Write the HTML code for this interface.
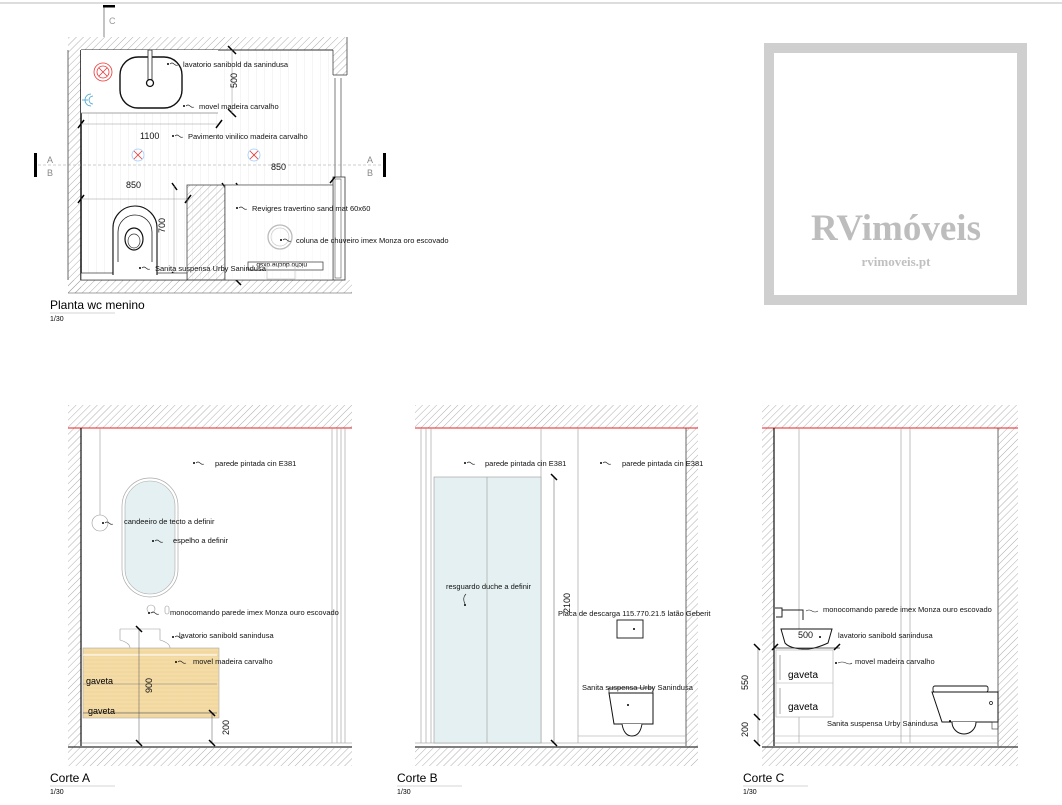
<!DOCTYPE html>
<html><head><meta charset="utf-8"><style>
html,body{margin:0;padding:0;background:#fff;}
svg{display:block;font-family:"Liberation Sans",sans-serif;}
.t{font-size:7.5px;fill:#111;}
.d{font-size:9px;fill:#111;}
.ld{fill:none;stroke:#222;stroke-width:0.6;}
</style></head><body>
<svg width="1062" height="805" viewBox="0 0 1062 805" xmlns="http://www.w3.org/2000/svg">
<defs>
<pattern id="h" width="5" height="5" patternUnits="userSpaceOnUse" patternTransform="rotate(45)">
<line x1="0" y1="0" x2="0" y2="5" stroke="#999" stroke-width="0.8"/>
</pattern>
<pattern id="fl" width="8" height="10" patternUnits="userSpaceOnUse">
<line x1="0" y1="0" x2="0" y2="10" stroke="#ddd" stroke-width="0.6"/>
</pattern>
<pattern id="wood" width="6" height="4" patternUnits="userSpaceOnUse">
<rect width="6" height="4" fill="#f2d79e"/>
<line x1="0" y1="2" x2="6" y2="2" stroke="#f8e6be" stroke-width="0.7"/>
</pattern>
<g id="lead"><circle cx="0" cy="0" r="1" fill="#000"/><path d="M2 0 Q4 -2 6 0 T10 1" fill="none" stroke="#222" stroke-width="0.6"/></g>
</defs>
<line x1="0" y1="3" x2="1062" y2="3" stroke="#bbb" stroke-width="1"/>

<!-- ===== PLAN ===== -->
<line x1="104" y1="6" x2="104" y2="37" stroke="#555" stroke-width="0.7"/>
<rect x="103" y="5" width="12" height="2.5" fill="#000"/>
<text x="109" y="24" class="d" style="fill:#999">C</text>
<rect x="68" y="37" width="279" height="13" fill="url(#h)"/>
<rect x="68" y="50" width="13" height="243" fill="url(#h)"/>
<rect x="333" y="50" width="14" height="25" fill="url(#h)"/>
<rect x="68" y="280" width="284" height="13" fill="url(#h)"/>
<rect x="81" y="50" width="252" height="230" fill="url(#fl)"/>
<line x1="81" y1="50" x2="333" y2="50" stroke="#333" stroke-width="1"/>
<line x1="81" y1="50" x2="81" y2="280" stroke="#111" stroke-width="1.5"/>
<line x1="68" y1="50" x2="68" y2="280" stroke="#444" stroke-width="0.8"/>
<line x1="333" y1="50" x2="333" y2="75" stroke="#444" stroke-width="0.8"/>
<line x1="333" y1="75" x2="347" y2="75" stroke="#444" stroke-width="0.8"/>
<line x1="347" y1="37" x2="347" y2="75" stroke="#444" stroke-width="0.8"/>
<line x1="81" y1="280" x2="333" y2="280" stroke="#333" stroke-width="0.8"/>
<line x1="68" y1="293" x2="352" y2="293" stroke="#444" stroke-width="0.6"/>
<line x1="335" y1="78" x2="335" y2="178" stroke="#444" stroke-width="0.7"/>
<line x1="341" y1="78" x2="341" y2="178" stroke="#444" stroke-width="0.7"/>
<rect x="333" y="177" width="12" height="103" fill="#fff" stroke="#333" stroke-width="0.8"/>
<rect x="335" y="179" width="6" height="99" fill="none" stroke="#555" stroke-width="0.6"/>
<rect x="81" y="50" width="137" height="63" fill="#fff"/>
<line x1="81" y1="113" x2="218" y2="113" stroke="#888" stroke-width="0.7"/>
<rect x="120" y="57" width="62" height="51" rx="18" fill="#fff" stroke="#111" stroke-width="1.4"/>
<rect x="148" y="50" width="4" height="31" fill="#fff" stroke="#222" stroke-width="0.8"/>
<circle cx="150" cy="83" r="3.5" fill="#fff" stroke="#111" stroke-width="1.3"/>
<circle cx="103" cy="72" r="9" fill="none" stroke="#e33" stroke-width="0.8"/>
<circle cx="103" cy="72" r="6" fill="none" stroke="#e33" stroke-width="0.8"/>
<path d="M99 68 L107 76 M107 68 L99 76" stroke="#e33" stroke-width="0.8"/>
<path d="M91 94 A6 6 0 0 0 91 106 M93 96 A4 4 0 0 0 93 104 M82 100 L88 100" fill="none" stroke="#39c" stroke-width="0.7"/>
<circle cx="138" cy="155" r="6" fill="none" stroke="#9cf" stroke-width="0.8"/>
<path d="M134 151 L142 159 M142 151 L134 159" stroke="#e33" stroke-width="0.8"/>
<circle cx="254" cy="155" r="6" fill="none" stroke="#9cf" stroke-width="0.8"/>
<path d="M250 151 L258 159 M258 151 L250 159" stroke="#e33" stroke-width="0.8"/>
<line x1="38" y1="165" x2="386" y2="165" stroke="#999" stroke-width="0.5" stroke-dasharray="3 2"/>
<rect x="34" y="153" width="3" height="24" fill="#000"/>
<rect x="383" y="153" width="3" height="24" fill="#000"/>
<text x="47" y="163" class="d" style="fill:#888">A</text><text x="47" y="176" class="d" style="fill:#888">B</text>
<text x="367" y="163" class="d" style="fill:#888">A</text><text x="367" y="176" class="d" style="fill:#888">B</text>
<g stroke="#000" stroke-width="1.5">
<line x1="228" y1="46" x2="236" y2="54"/><line x1="228" y1="109" x2="236" y2="117"/>
<line x1="78" y1="128" x2="84" y2="120"/><line x1="216" y1="128" x2="222" y2="120"/>
<line x1="78" y1="203" x2="84" y2="195"/><line x1="185" y1="203" x2="191" y2="195"/>
<line x1="172" y1="183" x2="177" y2="190"/><line x1="222" y1="183" x2="227" y2="190"/>
<line x1="236" y1="183" x2="241" y2="190"/><line x1="330" y1="183" x2="335" y2="177"/>
<line x1="172" y1="272" x2="178" y2="278"/><line x1="236" y1="280" x2="241" y2="285"/>
</g>
<g stroke="#999" stroke-width="0.5">
<line x1="81" y1="124" x2="218" y2="124"/><line x1="81" y1="199" x2="188" y2="199"/>
<line x1="232" y1="50" x2="232" y2="113"/><line x1="225" y1="185" x2="333" y2="185"/>
<line x1="238" y1="185" x2="238" y2="280"/><line x1="174" y1="186" x2="174" y2="275"/>
</g>
<text x="0" y="0" class="d" transform="translate(237,88) rotate(-90)">500</text>
<text x="140" y="139" class="d">1100</text>
<text x="126" y="188" class="d">850</text>
<text x="271" y="170" class="d">850</text>
<text x="0" y="0" class="d" transform="translate(165,233) rotate(-90)">700</text>
<text x="0" y="0" class="d" transform="translate(256,243) rotate(-90)">750</text>
<rect x="187" y="185" width="38" height="95" fill="url(#h)" stroke="#444" stroke-width="0.8"/>
<rect x="225" y="185" width="108" height="95" fill="#fff" stroke="#444" stroke-width="0.7"/>
<rect x="225" y="185" width="108" height="95" fill="url(#fl)" opacity="0.5"/>
<circle cx="280" cy="237" r="12" fill="none" stroke="#bbb" stroke-width="1.3"/>
<circle cx="280" cy="237" r="9" fill="none" stroke="#ccc" stroke-width="0.7"/>
<rect x="248" y="262" width="75" height="8" fill="#fff" stroke="#333" stroke-width="0.7"/>
<text x="253" y="269" style="font-size:6.5px" transform="rotate(180 280 266)">nicho duche oxsb</text>
<rect x="267" y="266" width="28" height="13" fill="none" stroke="#bbb" stroke-width="0.6"/>
<rect x="81" y="273" width="106" height="7" fill="#fff" stroke="#333" stroke-width="0.7"/>
<path d="M113 275 L113 228 A22 22 0 0 1 157 228 L157 275" fill="#fff" stroke="#111" stroke-width="1.1"/>
<path d="M118 262 L118 232 A17 17 0 0 1 152 232 L152 262" fill="none" stroke="#222" stroke-width="0.8"/>
<ellipse cx="134" cy="239" rx="9" ry="11" fill="none" stroke="#111" stroke-width="1.2"/>
<ellipse cx="134" cy="241" rx="6" ry="7" fill="none" stroke="#333" stroke-width="0.7"/>
<use href="#lead" x="168" y="64"/><use href="#lead" x="184" y="106"/><use href="#lead" x="173" y="136"/>
<use href="#lead" x="237" y="208"/><use href="#lead" x="281" y="240"/><use href="#lead" x="140" y="268"/>
<g class="t">
<text x="183" y="67">lavatorio sanibold da sanindusa</text>
<text x="199" y="109">movel madeira carvalho</text>
<text x="188" y="139">Pavimento vinilico madeira carvalho</text>
<text x="252" y="211">Revigres travertino sand mat 60x60</text>
<text x="296" y="243">coluna de chuveiro imex Monza oro escovado</text>
<text x="155" y="271">Sanita suspensa Urby Sanindusa</text>
</g>
<text x="50" y="309" style="font-size:12px">Planta wc menino</text>
<line x1="50" y1="313" x2="115" y2="313" stroke="#aaa" stroke-width="0.6"/>
<text x="50" y="321" style="font-size:7px">1/30</text>

<!-- ===== LOGO ===== -->
<rect x="769" y="48" width="253" height="252" fill="#fff" stroke="#cfcfcf" stroke-width="10"/>
<text x="896" y="240" text-anchor="middle" style="font-family:'Liberation Serif',serif;font-size:37px;font-weight:bold;fill:#bdbdbd">RVimóveis</text>
<text x="896" y="266" text-anchor="middle" style="font-family:'Liberation Serif',serif;font-size:13px;font-weight:bold;fill:#c0c0c0">rvimoveis.pt</text>

<!-- ===== CORTE A ===== -->
<rect x="68" y="405" width="284" height="23" fill="url(#h)"/>
<rect x="68" y="428" width="13" height="320" fill="url(#h)"/>
<rect x="68" y="748" width="284" height="18" fill="url(#h)"/>
<line x1="68" y1="428" x2="352" y2="428" stroke="#e22" stroke-width="1"/>
<line x1="81" y1="428" x2="81" y2="746" stroke="#111" stroke-width="1.2"/>
<line x1="81" y1="743" x2="352" y2="743" stroke="#888" stroke-width="0.6"/>
<line x1="68" y1="747" x2="352" y2="747" stroke="#333" stroke-width="1.3"/>
<g stroke="#999" stroke-width="0.6"><line x1="332" y1="428" x2="332" y2="743"/><line x1="337" y1="428" x2="337" y2="743"/><line x1="341" y1="428" x2="341" y2="743"/><line x1="345" y1="428" x2="345" y2="743"/></g>
<line x1="100" y1="428" x2="100" y2="515" stroke="#999" stroke-width="0.6"/>
<circle cx="100" cy="523" r="8" fill="none" stroke="#999" stroke-width="0.6"/>
<rect x="122" y="478" width="56" height="119" rx="28" fill="#fff" stroke="#aaa" stroke-width="0.7"/>
<rect x="125" y="481" width="50" height="113" rx="25" fill="#e4f0f1" stroke="#aaa" stroke-width="0.6"/>
<circle cx="151" cy="609" r="4" fill="none" stroke="#999" stroke-width="0.6"/>
<rect x="165" y="606" width="4" height="8" rx="2" fill="none" stroke="#999" stroke-width="0.6"/>
<path d="M120 629 L160 629 L160 640 Q170 643 170 648 M120 629 L120 640 Q130 643 130 648" fill="none" stroke="#999" stroke-width="0.6"/>
<rect x="83" y="648" width="136" height="70" fill="url(#wood)" stroke="#aaa" stroke-width="0.6"/>
<line x1="83" y1="655" x2="217" y2="655" stroke="#fff" stroke-width="1"/>
<line x1="83" y1="684" x2="217" y2="684" stroke="#888" stroke-width="0.6"/>
<line x1="83" y1="713" x2="217" y2="713" stroke="#666" stroke-width="0.8"/>
<text x="86" y="684" style="font-size:9px">gaveta</text>
<text x="88" y="714" style="font-size:9px">gaveta</text>
<line x1="139" y1="629" x2="139" y2="743" stroke="#555" stroke-width="0.5"/>
<line x1="212" y1="713" x2="212" y2="743" stroke="#555" stroke-width="0.5"/>
<g stroke="#000" stroke-width="1.5"><line x1="136" y1="626" x2="142" y2="632"/><line x1="136" y1="740" x2="142" y2="746"/><line x1="209" y1="710" x2="215" y2="716"/><line x1="209" y1="740" x2="215" y2="746"/></g>
<text x="0" y="0" class="d" transform="translate(152,693) rotate(-90)">900</text>
<text x="0" y="0" class="d" transform="translate(229,735) rotate(-90)">200</text>
<use href="#lead" x="194" y="463"/><use href="#lead" x="103" y="523"/><use href="#lead" x="153" y="541"/>
<use href="#lead" x="149" y="613"/><use href="#lead" x="173" y="637"/><use href="#lead" x="176" y="662"/>
<g class="t">
<text x="215" y="466">parede pintada cin E381</text>
<text x="124" y="524">candeeiro de tecto a definir</text>
<text x="173" y="543">espelho a definir</text>
<text x="170" y="615">monocomando parede imex Monza ouro escovado</text>
<text x="179" y="638">lavatorio sanibold sanindusa</text>
<text x="193" y="664">movel madeira carvalho</text>
</g>
<text x="50" y="782" style="font-size:12px">Corte A</text>
<line x1="50" y1="786" x2="115" y2="786" stroke="#aaa" stroke-width="0.6"/>
<text x="50" y="794" style="font-size:7px">1/30</text>

<!-- ===== CORTE B ===== -->
<rect x="415" y="405" width="283" height="23" fill="url(#h)"/>
<rect x="686" y="428" width="12" height="320" fill="url(#h)"/>
<rect x="415" y="748" width="283" height="18" fill="url(#h)"/>
<line x1="415" y1="428" x2="698" y2="428" stroke="#e22" stroke-width="1"/>
<line x1="686" y1="428" x2="686" y2="746" stroke="#444" stroke-width="0.8"/>
<line x1="415" y1="743" x2="686" y2="743" stroke="#888" stroke-width="0.6"/>
<line x1="415" y1="747" x2="698" y2="747" stroke="#333" stroke-width="1.3"/>
<g stroke="#999" stroke-width="0.6"><line x1="421" y1="428" x2="421" y2="743"/><line x1="426" y1="428" x2="426" y2="743"/><line x1="431" y1="428" x2="431" y2="743"/><line x1="541" y1="428" x2="541" y2="743"/><line x1="578" y1="428" x2="578" y2="743"/><line x1="578" y1="736" x2="686" y2="736"/></g>
<rect x="434" y="477" width="107" height="266" fill="#e4f0f1" stroke="#999" stroke-width="0.6"/>
<line x1="487" y1="477" x2="487" y2="743" stroke="#999" stroke-width="0.6"/>
<line x1="554" y1="477" x2="554" y2="743" stroke="#555" stroke-width="0.5"/>
<g stroke="#000" stroke-width="1.5"><line x1="551" y1="474" x2="557" y2="480"/><line x1="551" y1="740" x2="557" y2="746"/></g>
<text x="0" y="0" class="d" transform="translate(570,613) rotate(-90)">2100</text>
<rect x="617" y="620" width="26" height="18" fill="#fff" stroke="#111" stroke-width="0.9"/>
<rect x="609" y="688" width="44" height="5" fill="#fff" stroke="#222" stroke-width="0.7"/>
<path d="M609 693 L614 724 L653 724 L653 693 Z" fill="#fff" stroke="#111" stroke-width="1"/>
<path d="M622 724 Q624 736 632 736 Q640 736 642 724" fill="#fff" stroke="#111" stroke-width="0.9"/>
<use href="#lead" x="465" y="463"/><use href="#lead" x="601" y="463"/>
<circle cx="465" cy="605" r="1" fill="#000"/><path d="M465 604 Q462 598 466 594" class="ld"/>
<circle cx="634" cy="629" r="1" fill="#000"/><circle cx="628" cy="705" r="1" fill="#000"/>
<g class="t">
<text x="485" y="466">parede pintada cin E381</text>
<text x="622" y="466">parede pintada cin E381</text>
<text x="446" y="589">resguardo duche a definir</text>
<text x="558" y="616">Placa de descarga 115.770.21.5 latão Geberit</text>
<text x="582" y="690">Sanita suspensa Urby Sanindusa</text>
</g>
<text x="397" y="782" style="font-size:12px">Corte B</text>
<line x1="397" y1="786" x2="462" y2="786" stroke="#aaa" stroke-width="0.6"/>
<text x="397" y="794" style="font-size:7px">1/30</text>

<!-- ===== CORTE C ===== -->
<rect x="762" y="405" width="256" height="23" fill="url(#h)"/>
<rect x="762" y="428" width="12" height="320" fill="url(#h)"/>
<rect x="998" y="428" width="20" height="320" fill="url(#h)"/>
<rect x="762" y="748" width="256" height="18" fill="url(#h)"/>
<line x1="762" y1="428" x2="1018" y2="428" stroke="#e22" stroke-width="1"/>
<line x1="774" y1="428" x2="774" y2="746" stroke="#111" stroke-width="1.2"/>
<line x1="998" y1="428" x2="998" y2="746" stroke="#444" stroke-width="0.8"/>
<line x1="774" y1="743" x2="998" y2="743" stroke="#888" stroke-width="0.6"/>
<line x1="774" y1="736" x2="998" y2="736" stroke="#aaa" stroke-width="0.5"/>
<line x1="762" y1="747" x2="1018" y2="747" stroke="#333" stroke-width="1.3"/>
<g stroke="#999" stroke-width="0.6"><line x1="799" y1="428" x2="799" y2="743"/><line x1="901" y1="428" x2="901" y2="743"/><line x1="910" y1="428" x2="910" y2="743"/></g>
<path d="M775 608 L782 608 L782 617 L776 617 M782 610 L803 610 L803 620" fill="none" stroke="#222" stroke-width="1"/>
<path d="M781 629 L832 629 L828 643 Q815 649 806 649 Q790 649 785 643 Z" fill="#fff" stroke="#111" stroke-width="1"/>
<line x1="775" y1="648" x2="840" y2="648" stroke="#333" stroke-width="0.7"/>
<rect x="776" y="650" width="57" height="67" fill="#fff" stroke="#aaa" stroke-width="0.6"/>
<line x1="776" y1="683" x2="833" y2="683" stroke="#aaa" stroke-width="0.6"/>
<line x1="780" y1="655" x2="780" y2="680" stroke="#aaa" stroke-width="1"/>
<line x1="780" y1="688" x2="780" y2="714" stroke="#aaa" stroke-width="1"/>
<text x="788" y="678" style="font-size:10px">gaveta</text>
<text x="788" y="710" style="font-size:10px">gaveta</text>
<line x1="758" y1="648" x2="758" y2="745" stroke="#555" stroke-width="0.5"/>
<g stroke="#000" stroke-width="1.5"><line x1="754" y1="644" x2="760" y2="650"/><line x1="754" y1="714" x2="760" y2="720"/><line x1="754" y1="740" x2="760" y2="746"/><line x1="772" y1="650" x2="778" y2="644"/><line x1="834" y1="650" x2="840" y2="644"/></g>
<text x="0" y="0" class="d" transform="translate(748,690) rotate(-90)">550</text>
<text x="0" y="0" class="d" transform="translate(748,737) rotate(-90)">200</text>
<text x="798" y="638" class="d">500</text>
<rect x="933" y="686" width="55" height="6" rx="2" fill="#fff" stroke="#111" stroke-width="0.9"/>
<path d="M932 692 L998 692 L998 722 L942 722 Z" fill="#fff" stroke="#111" stroke-width="1"/>
<path d="M952 722 A12 12 0 0 0 976 722" fill="#fff" stroke="#111" stroke-width="1"/>
<rect x="992" y="722" width="6" height="7" fill="none" stroke="#333" stroke-width="0.6"/>
<circle cx="991" cy="703" r="1.5" fill="none" stroke="#111" stroke-width="0.7"/>
<path d="M806 611 Q809 609 812 611 T818 611" class="ld"/>
<circle cx="820" cy="637" r="1" fill="#000"/><circle cx="836" cy="663" r="1" fill="#000"/><path d="M838 663 Q842 661 846 663 T852 663" class="ld"/>
<circle cx="950" cy="721" r="1" fill="#000"/>
<g class="t">
<text x="823" y="612">monocomando parede imex Monza ouro escovado</text>
<text x="838" y="638">lavatorio sanibold sanindusa</text>
<text x="855" y="664">movel madeira carvalho</text>
<text x="827" y="726">Sanita suspensa Urby Sanindusa</text>
</g>
<text x="743" y="782" style="font-size:12px">Corte C</text>
<line x1="743" y1="786" x2="808" y2="786" stroke="#aaa" stroke-width="0.6"/>
<text x="743" y="794" style="font-size:7px">1/30</text>
</svg>
</body></html>
